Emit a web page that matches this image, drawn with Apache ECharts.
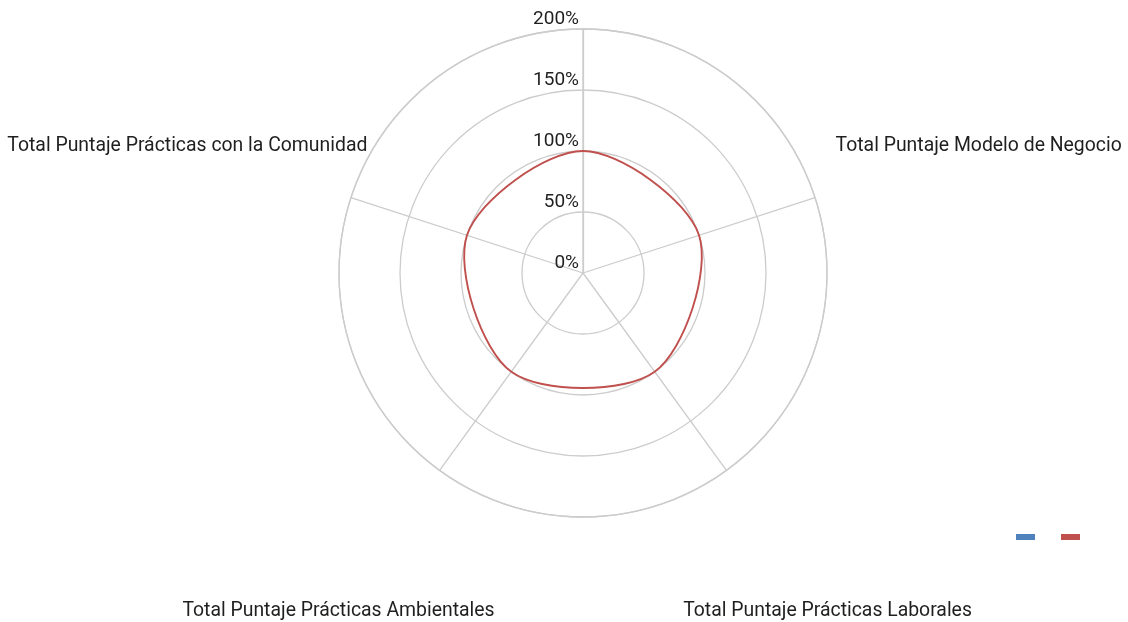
<!DOCTYPE html>
<html>
<head>
<meta charset="utf-8">
<script src="https://cdn.jsdelivr.net/npm/echarts@6/dist/echarts.min.js"></script>
<style>
html,body{margin:0;padding:0;background:#fff;}
#chart{width:1128px;height:622px;}
</style>
</head>
<body>
<div id="chart"></div>
<script>
// Axis (category) names, clockwise from the top spoke
var categories = ['', 'Total Puntaje Modelo de Negocio', 'Total Puntaje Prácticas Laborales', 'Total Puntaje Prácticas Ambientales', 'Total Puntaje Prácticas con la Comunidad'];
// Angles of the spokes (degrees, clockwise from top)
var angles = [0, 72, 144, 216, 288];
// Series values (%)
var serie1Values = [0, 0, 0, 0, 0];
var serie2Values = [100, 100, 100, 100, 100];
var seriesNames = ['Serie 1', 'Serie 2'];
var seriesColors = ['#4f81bd', '#c0504d'];
// Radius tick labels
var radiusTicks = [0, 50, 100, 150, 200];

var chart = echarts.init(document.getElementById('chart'), null, {renderer: 'canvas'});
var grid = '#cccccc';
var font = 'Roboto';
var textColor = '#1f1f1f';
var fontSize = 19;
var nameFontSize = 19.4;
var center = [583, 273];
var radius = 244;
var nameRadius = 416;

function polygonRenderer(values) {
  return function (params, api) {
    if (params.dataIndex !== 0) return null;
    var pts = values.map(function (v, i) { return api.coord([v, angles[i]]); });
    return {
      type: 'polygon',
      shape: {points: pts, smooth: 0.32},
      style: {fill: 'none', stroke: api.visual('color'), lineWidth: 1.9}
    };
  };
}

// Category names placed along each spoke direction, centred
var nameTexts = categories.map(function (name, i) {
  var a = angles[i] * Math.PI / 180;
  return {
    type: 'text',
    x: center[0] + nameRadius * Math.sin(a),
    y: center[1] - nameRadius * Math.cos(a) + 2,
    style: {
      text: name,
      fill: textColor,
      font: nameFontSize + 'px ' + font,
      align: 'center',
      verticalAlign: 'middle'
    },
    silent: true
  };
});

chart.setOption({
  backgroundColor: '#ffffff',
  animation: false,
  textStyle: {fontFamily: font},
  legend: {
    data: seriesNames,
    left: 1011,
    top: 529,
    icon: 'rect',
    itemWidth: 19,
    itemHeight: 6,
    itemGap: 26,
    formatter: function () { return ''; },
    selectedMode: false
  },
  polar: {center: center, radius: radius},
  angleAxis: {
    type: 'value',
    min: 0,
    max: 360,
    interval: 72,
    startAngle: 90,
    clockwise: true,
    axisLine: {show: true, lineStyle: {color: grid, width: 1.3}},
    axisTick: {show: false},
    splitLine: {show: true, lineStyle: {color: grid, width: 1.3}},
    axisLabel: {show: false}
  },
  radiusAxis: {
    type: 'value',
    min: radiusTicks[0],
    max: radiusTicks[radiusTicks.length - 1],
    interval: radiusTicks[1] - radiusTicks[0],
    axisLine: {show: true, lineStyle: {color: grid, width: 1.3}},
    axisTick: {show: false},
    splitLine: {show: true, lineStyle: {color: grid, width: 1.3}},
    axisLabel: {
      show: true,
      fontSize: fontSize,
      color: textColor,
      fontFamily: font,
      verticalAlign: 'bottom',
      margin: 4,
      formatter: '{value}%'
    }
  },
  graphic: nameTexts,
  series: [
    {
      name: seriesNames[0],
      type: 'custom',
      coordinateSystem: 'polar',
      itemStyle: {color: seriesColors[0]},
      data: [[serie1Values[0], angles[0]]],
      renderItem: polygonRenderer(serie1Values),
      z: 3
    },
    {
      name: seriesNames[1],
      type: 'custom',
      coordinateSystem: 'polar',
      itemStyle: {color: seriesColors[1]},
      data: [[serie2Values[0], angles[0]]],
      renderItem: polygonRenderer(serie2Values),
      z: 4
    }
  ]
});
</script>
</body>
</html>
